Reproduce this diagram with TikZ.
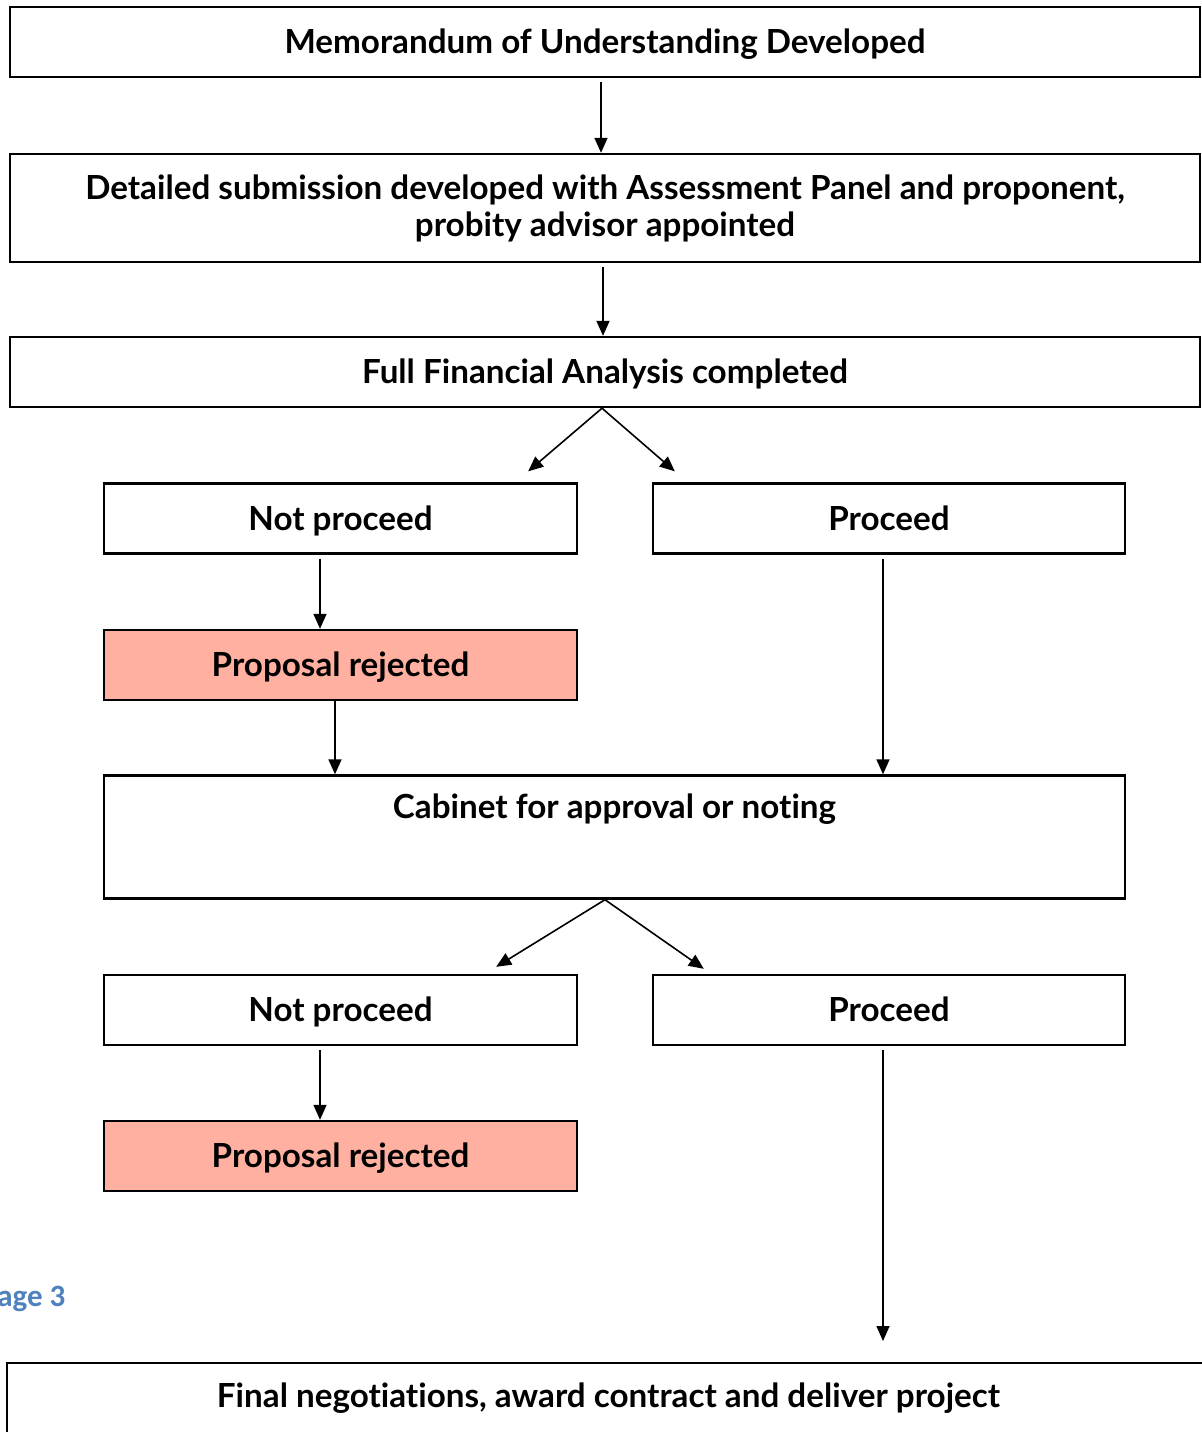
\documentclass[tikz,border=0pt]{standalone}
\usepackage{fontspec}
\setmainfont{Lato}[Ligatures=NoCommon]
\newfontfamily\pgfont{Carlito}
\usepackage{xcolor}
\definecolor{rejfill}{HTML}{FFB0A0}
\definecolor{pgblue}{HTML}{4F81BD}
\usetikzlibrary{positioning,arrows.meta,calc}

\begin{document}
\begin{tikzpicture}[x=0.5pt,y=-0.5pt,
    box/.style={draw,line width=1.2pt,inner sep=0pt,font=\fontsize{16.6}{18.5}\selectfont\bfseries,align=center},
    one/.style={box,text height=11.8pt,text depth=0pt,minimum height=35pt},
    arr/.style={line width=0.8pt,-{Triangle[length=7.5pt,width=6.5pt]}}]
    \useasboundingbox (0,0) rectangle (1202,1432);
    \node[one,minimum width=595pt] (memo) at (605,42) {Memorandum of Understanding Developed};
    \node[box,minimum width=595pt,minimum height=54pt] (detail) at (605,208) {Detailed submission developed with Assessment Panel and proponent,\\probity advisor appointed};
    \node[one,minimum width=595pt] (ffa) at (605,372) {Full Financial Analysis completed};
    \node[one,minimum width=236.5pt] (np1) at (340.5,518.5) {Not proceed};
    \node[one,minimum width=236pt] (pr1) at (889,518.5) {Proceed};
    \node[one,fill=rejfill,minimum width=236.5pt] (rej1) at (340.5,665) {Proposal rejected};
    \node[box,minimum width=510.5pt,text height=21.5pt,text depth=40pt] (cab) at (614.5,837) {Cabinet for approval or noting};
    \node[one,minimum width=236.5pt] (np2) at (340.5,1010) {Not proceed};
    \node[one,minimum width=236pt] (pr2) at (889,1010) {Proceed};
    \node[one,fill=rejfill,minimum width=236.5pt] (rej2) at (340.5,1156) {Proposal rejected};
    \node[box,anchor=north,minimum width=601.5pt,text height=22pt,text depth=18pt] (final) at (608.5,1362) {Final negotiations, award contract and deliver project};
    \node[anchor=base west,inner sep=0pt,text=pgblue,font=\pgfont\fontsize{15.5}{17}\selectfont\bfseries] (pg) at (-3,1306) {age 3};
    \draw[arr] ([xshift=-2pt,yshift=-2pt]memo.south) -- ([xshift=-2pt]detail.north);
    \draw[arr] ([xshift=-1pt,yshift=-2pt]detail.south) -- ([xshift=-1pt]ffa.north);
    \draw[arr] ([xshift=-1.5pt]ffa.south) -- ([xshift=-25pt,yshift=5.5pt]np1.north east);
    \draw[arr] ([xshift=-1.5pt]ffa.south) -- ([xshift=11.5pt,yshift=5.5pt]pr1.north west);
    \draw[arr] ([xshift=-10.25pt,yshift=-2pt]np1.south) -- ([xshift=-10.25pt]np1.south |- rej1.north);
    \draw[arr] ([xshift=-2.75pt]rej1.south) -- ([xshift=-2.75pt]rej1.south |- cab.north);
    \draw[arr] ([xshift=-3pt,yshift=-2pt]pr1.south) -- ([xshift=-3pt]pr1.south |- cab.north);
    \draw[arr] ([xshift=-4.75pt]cab.south) -- ([xshift=-41pt,yshift=3.5pt]np2.north east);
    \draw[arr] ([xshift=-4.75pt]cab.south) -- ([xshift=26pt,yshift=2.5pt]pr2.north west);
    \draw[arr] ([xshift=-10.25pt,yshift=-2pt]np2.south) -- ([xshift=-10.25pt]np2.south |- rej2.north);
    \draw[arr] ([xshift=-3pt,yshift=-2pt]pr2.south) -- ([xshift=-3pt,yshift=10.5pt]pr2.south |- final.north);
\end{tikzpicture}
\end{document}
